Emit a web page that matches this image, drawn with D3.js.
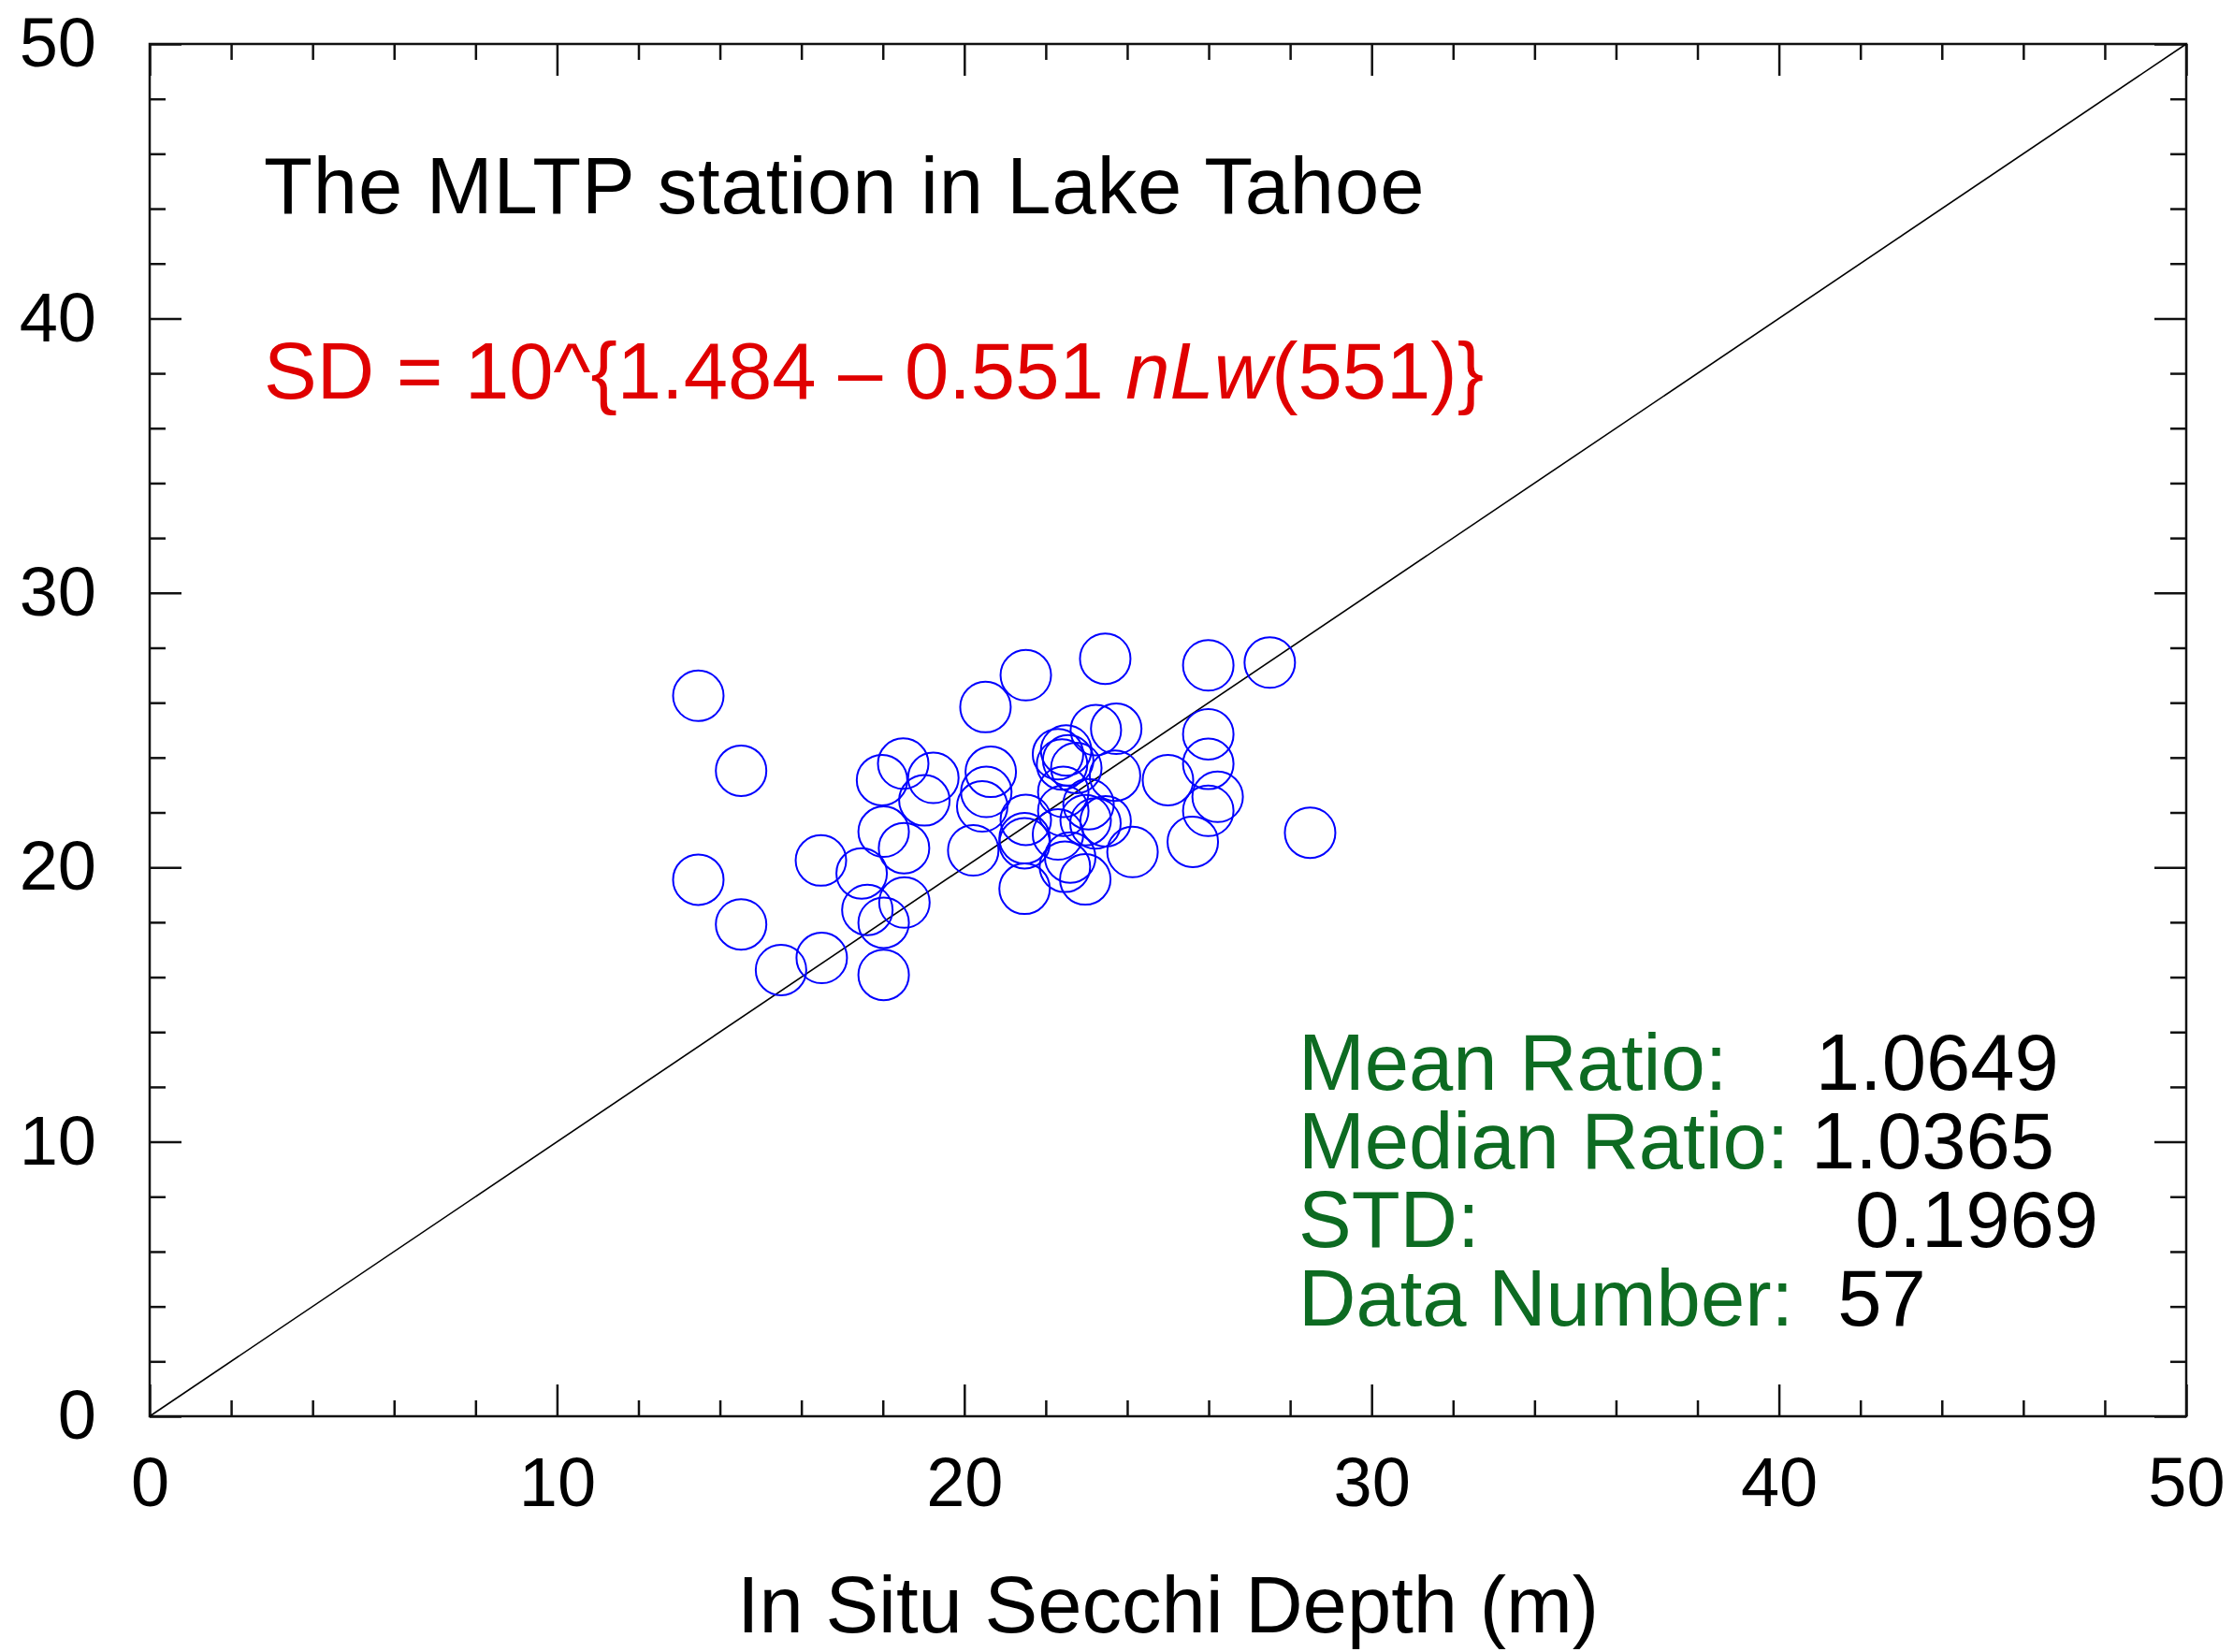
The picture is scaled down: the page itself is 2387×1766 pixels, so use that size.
<!DOCTYPE html>
<html>
<head>
<meta charset="utf-8">
<script src="https://cdn.jsdelivr.net/npm/d3@7"></script>
<style>
  html, body { margin: 0; padding: 0; background: #fff; }
  svg { display: block; font-family: "Liberation Sans", Arial, Helvetica, sans-serif; }
</style>
</head>
<body>
<svg id="chart" width="2387" height="1766"></svg>
<script>
// In situ Secchi depth (m) and satellite-derived Secchi depth (m), one pair per match-up
const insituDepth = [
  13.47, 14.52, 13.47, 14.52, 15.50, 16.50, 16.48, 17.48, 18.02, 17.62,
  18.02, 18.53, 18.02, 18.52, 17.98, 18.50, 19.24, 19.02, 20.52, 21.51,
  23.46, 25.99, 27.50, 28.49, 20.65, 20.54, 20.44, 20.22, 23.23, 23.73,
  25.99, 25.99, 25.00, 23.70, 26.22, 25.99, 25.61, 24.13, 22.30, 22.50,
  22.55, 22.40, 21.51, 21.48, 21.48, 21.48, 22.47, 22.97, 22.60, 22.98,
  23.22, 23.47, 22.43, 22.43, 22.30, 22.75, 23.05
];
const derivedDepth = [
  26.25, 23.52, 19.55, 17.92, 16.26, 16.70, 20.25, 19.78, 16.08, 18.45,
  17.98, 18.72, 21.30, 20.70, 23.18, 23.78, 23.26, 22.44, 25.84, 27.00,
  27.60, 27.36, 27.46, 21.26, 23.48, 22.75, 22.22, 20.62, 25.00, 25.05,
  24.85, 23.77, 23.18, 23.34, 22.57, 22.06, 20.93, 20.56, 24.12, 24.26,
  23.90, 23.75, 21.73, 21.06, 20.88, 19.22, 20.02, 19.56, 20.36, 21.72,
  21.60, 21.68, 22.06, 22.75, 21.20, 23.62, 22.30
];

const axisDomain = [0, 50];
const majorTicks = [0, 10, 20, 30, 40, 50];
const minorTicks = [2, 4, 6, 8, 12, 14, 16, 18, 22, 24, 26, 28, 32, 34, 36, 38, 42, 44, 46, 48];

const titleText = "The MLTP station in Lake Tahoe";
const formulaParts = [
  { text: "SD = 10^{1.484 \u2013 0.551 ", italic: false },
  { text: "nLw", italic: true },
  { text: "(551)}", italic: false }
];
const xAxisTitle = "In Situ Secchi Depth (m)";
const statLabels = ["Mean Ratio:    ", "Median Ratio: ", "STD:                 ", "Data Number:  "];
const statValues = ["1.0649", "1.0365", "0.1969", "57"];

// Layout
const margin = { left: 160, top: 47, right: 50, bottom: 252 };
const W = 2387, H = 1766;
const width = W - margin.left - margin.right;
const height = H - margin.top - margin.bottom;

const svg = d3.select("#chart");
const g = svg.append("g").attr("transform", `translate(${margin.left},${margin.top})`);

const x = d3.scaleLinear().domain(axisDomain).range([0, width]);
const y = d3.scaleLinear().domain(axisDomain).range([height, 0]);

const tickColor = "#111";
const tickWidth = 2.5;

function styleAxis(sel) {
  sel.select(".domain").remove();
  sel.selectAll(".tick line").attr("stroke", tickColor).attr("stroke-width", tickWidth);
  sel.attr("font-family", null).attr("font-size", 74);
  sel.selectAll(".tick text").attr("fill", "#000");
}

// Bottom axis: labelled major ticks and minor ticks, all pointing inward
g.append("g").attr("transform", `translate(0,${height})`)
  .call(d3.axisBottom(x).tickValues(majorTicks).tickSize(-34).tickPadding(43).tickFormat(d3.format("d")))
  .call(styleAxis);
g.append("g").attr("transform", `translate(0,${height})`)
  .call(d3.axisBottom(x).tickValues(minorTicks).tickSize(-17).tickFormat(""))
  .call(styleAxis);

// Top axis (ticks only)
g.append("g")
  .call(d3.axisTop(x).tickValues(majorTicks).tickSize(-34).tickFormat(""))
  .call(styleAxis);
g.append("g")
  .call(d3.axisTop(x).tickValues(minorTicks).tickSize(-17).tickFormat(""))
  .call(styleAxis);

// Left axis
g.append("g")
  .call(d3.axisLeft(y).tickValues(majorTicks).tickSize(-34).tickPadding(57).tickFormat(d3.format("d")))
  .call(styleAxis);
g.append("g")
  .call(d3.axisLeft(y).tickValues(minorTicks).tickSize(-17).tickFormat(""))
  .call(styleAxis);

// Right axis (ticks only)
g.append("g").attr("transform", `translate(${width},0)`)
  .call(d3.axisRight(y).tickValues(majorTicks).tickSize(-34).tickFormat(""))
  .call(styleAxis);
g.append("g").attr("transform", `translate(${width},0)`)
  .call(d3.axisRight(y).tickValues(minorTicks).tickSize(-17).tickFormat(""))
  .call(styleAxis);

// Plot frame
g.append("rect")
  .attr("x", 0).attr("y", 0).attr("width", width).attr("height", height)
  .attr("fill", "none").attr("stroke", tickColor).attr("stroke-width", tickWidth);

// 1:1 line
g.append("line")
  .attr("x1", x(axisDomain[0])).attr("y1", y(axisDomain[0]))
  .attr("x2", x(axisDomain[1])).attr("y2", y(axisDomain[1]))
  .attr("stroke", "#000").attr("stroke-width", 1.6);

// Match-up points
const points = insituDepth.map((v, i) => ({ insitu: v, derived: derivedDepth[i] }));
g.append("g").selectAll("circle")
  .data(points)
  .join("circle")
  .attr("cx", d => x(d.insitu))
  .attr("cy", d => y(d.derived))
  .attr("r", 27)
  .attr("fill", "none")
  .attr("stroke", "#0000ff")
  .attr("stroke-width", 2);

// Station title
g.append("text")
  .attr("x", 122).attr("y", 181)
  .attr("font-size", 85).attr("fill", "#000")
  .attr("letter-spacing", 0.9)
  .text(titleText);

// Regression formula
const formula = g.append("text")
  .attr("x", 122).attr("y", 379)
  .attr("font-size", 85).attr("fill", "#e00000");
formula.selectAll("tspan")
  .data(formulaParts)
  .join("tspan")
  .attr("font-style", d => d.italic ? "italic" : "normal")
  .text(d => d.text);

// Statistics block
const stats = g.append("g").attr("transform", "translate(1228,1118)");
statLabels.forEach((label, i) => {
  const t = stats.append("text")
    .attr("x", 0).attr("y", i * 84)
    .attr("font-size", 85)
    .attr("xml:space", "preserve")
    .style("white-space", "pre");
  t.append("tspan").attr("fill", "#0d6b22").text(label);
  t.append("tspan").attr("fill", "#000").text(statValues[i]);
});

// X axis title
svg.append("text")
  .attr("x", margin.left + width / 2).attr("y", 1745)
  .attr("text-anchor", "middle")
  .attr("font-size", 85).attr("fill", "#000")
  .text(xAxisTitle);
</script>
</body>
</html>
